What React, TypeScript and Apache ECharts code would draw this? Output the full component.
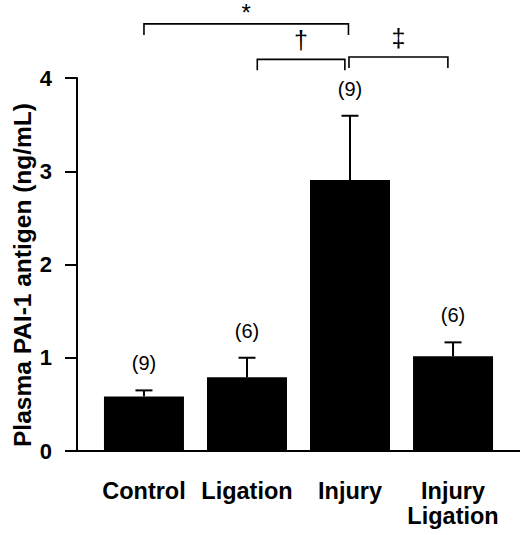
import React, { useEffect, useRef } from "react";
import * as echarts from "echarts";

const categories = ["Control", "Ligation", "Injury", "Injury\nLigation"];
const means = [0.585, 0.79, 2.905, 1.015];
const errorTops = [0.65, 1.0, 3.595, 1.165];
const nCounts = ["(9)", "(6)", "(9)", "(6)"];
const yTicks = [0, 1, 2, 3, 4];
const yTitle = "Plasma PAI-1 antigen (ng/mL)";

const bracketFrom = [0, 1.1, 1.99];
const bracketTo = [1.985, 1.95, 2.95];
const bracketLevel = [4.58, 4.2, 4.225];
const bracketMarks = ["*", "\u2020", "\u2021"];

const FONT = '"Liberation Sans", Arial, Helvetica, sans-serif';

export default function App() {
  const ref = useRef<HTMLDivElement>(null);
  useEffect(() => {
    document.body.style.margin = "0";
    if (!ref.current) return;
    const chart = echarts.init(ref.current, null, { renderer: "svg" });
    const option: any = {
      animation: false,
      backgroundColor: "#ffffff",
      grid: { left: 77, right: 0, top: 78, bottom: 84, containLabel: false },
      graphic: [
        {
          type: "text",
          x: 22,
          y: 275,
          rotation: Math.PI / 2,
          style: {
            text: yTitle,
            align: "center",
            verticalAlign: "middle",
            fill: "#000",
            fontFamily: FONT,
            fontWeight: "bold",
            fontSize: 24.5,
          },
        },
      ],
      xAxis: {
        type: "value",
        min: -0.65,
        max: 3.65,
        axisLine: { show: true, onZero: false, lineStyle: { color: "#000", width: 2 } },
        axisTick: { show: false },
        splitLine: { show: false },
        axisLabel: {
          customValues: [0, 1, 2, 3],
          formatter: (v: number) => categories[Math.round(v)] ?? "",
          color: "#000",
          fontFamily: FONT,
          fontWeight: "bold",
          fontSize: 23.5,
          lineHeight: 25,
          margin: 27,
        },
      },
      yAxis: {
        type: "value",
        min: yTicks[0],
        max: yTicks[yTicks.length - 1],
        interval: 1,
        axisLine: { show: true, onZero: false, lineStyle: { color: "#000", width: 2 } },
        axisTick: { show: true, inside: false, length: 12, lineStyle: { color: "#000", width: 2 } },
        splitLine: { show: false },
        axisLabel: {
          color: "#000",
          fontFamily: FONT,
          fontWeight: "bold",
          fontSize: 22,
          margin: 25,
        },
      },
      series: [
        {
          type: "bar",
          data: means.map((m, i) => [i, m]),
          barWidth: 80,
          itemStyle: { color: "#000" },
          z: 2,
        },
        {
          type: "custom",
          clip: false,
          data: means.map((m, i) => [i, m, errorTops[i]]),
          renderItem: (params: any, api: any) => {
            const i = api.value(0);
            const p0 = api.coord([i, api.value(1)]);
            const p1 = api.coord([i, api.value(2)]);
            const half = 8.5;
            return {
              type: "group",
              children: [
                {
                  type: "line",
                  shape: { x1: p0[0], y1: p0[1], x2: p1[0], y2: p1[1] },
                  style: { stroke: "#000", lineWidth: 2 },
                },
                {
                  type: "line",
                  shape: { x1: p1[0] - half, y1: p1[1], x2: p1[0] + half, y2: p1[1] },
                  style: { stroke: "#000", lineWidth: 2 },
                },
                {
                  type: "text",
                  style: {
                    text: nCounts[params.dataIndex],
                    x: p1[0],
                    y: p1[1] - 27,
                    align: "center",
                    verticalAlign: "middle",
                    fill: "#000",
                    fontFamily: FONT,
                    fontSize: 20,
                  },
                },
              ],
            };
          },
          z: 3,
        },
        {
          type: "custom",
          clip: false,
          data: bracketFrom.map((f, i) => [f, bracketTo[i], bracketLevel[i]]),
          renderItem: (params: any, api: any) => {
            const a = api.coord([api.value(0), api.value(2)]);
            const b = api.coord([api.value(1), api.value(2)]);
            const tip = 11;
            const mark = bracketMarks[params.dataIndex];
            const isStar = mark === "*";
            return {
              type: "group",
              children: [
                {
                  type: "polyline",
                  shape: {
                    points: [
                      [a[0], a[1] + tip],
                      [a[0], a[1]],
                      [b[0], b[1]],
                      [b[0], b[1] + tip],
                    ],
                  },
                  style: { stroke: "#000", lineWidth: 1.6, fill: "none" },
                },
                {
                  type: "text",
                  style: {
                    text: mark,
                    x: (a[0] + b[0]) / 2,
                    y: a[1] - (isStar ? 11.5 : 19),
                    align: "center",
                    verticalAlign: "middle",
                    fill: "#000",
                    fontFamily: FONT,
                    fontSize: isStar ? 24 : 25,
                  },
                },
              ],
            };
          },
          z: 3,
        },
      ],
    };
    chart.setOption(option);
    return () => chart.dispose();
  }, []);
  return <div ref={ref} style={{ width: 520, height: 535 }} />;
}
